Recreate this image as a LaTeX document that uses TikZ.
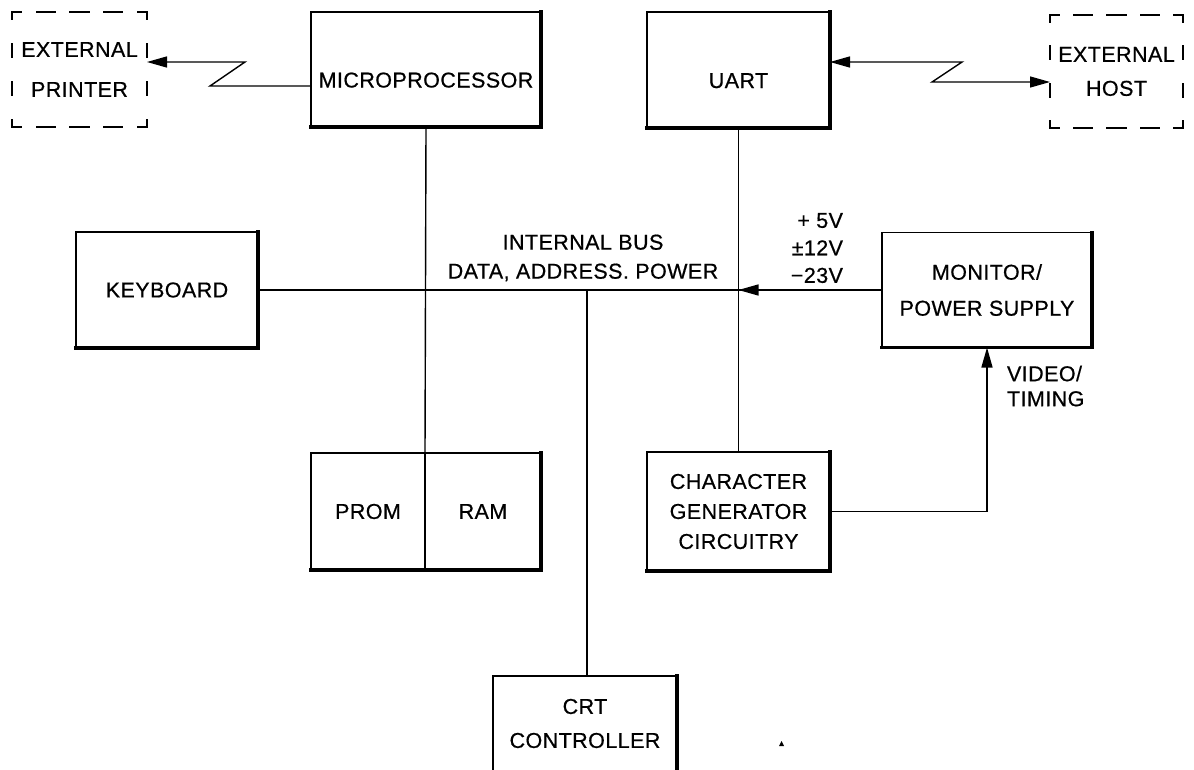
\documentclass[tikz,border=0pt]{standalone}
\usepackage{fontspec}
\setmainfont{Liberation Sans}[LetterSpace=2,FakeBold=0.6]
\usetikzlibrary{arrows.meta}
\begin{document}
\begin{tikzpicture}[x=1pt,y=-1pt,
  every node/.style={font=\fontsize{21.5}{30}\selectfont, inner sep=0pt, outer sep=0pt},
  blk/.style={draw, line width=1.6pt, align=center},
  dbox/.style={align=center},
  conn/.style={line width=1.4pt},
  heavy/.style={line width=3.2pt, line cap=rect, line join=miter},
  tip/.tip={Triangle[length=20pt,width=11pt]},
  pdh/.style={line width=2.4pt, line cap=rect, dash pattern=on 18pt off 15.75pt, dash phase=9pt},
  pdv/.style={line width=2.4pt, line cap=rect, dash pattern=on 13pt off 25.33pt, dash phase=6.5pt},
  hdh/.style={line width=2.4pt, line cap=rect, dash pattern=on 18pt off 15.25pt, dash phase=9pt},
  hdv/.style={line width=2.4pt, line cap=rect, dash pattern=on 13pt off 24.67pt, dash phase=6.5pt},
]
\fill[white] (0,0) rectangle (1194,769);
\useasboundingbox (0,0) rectangle (1194,769);

% boxes
\node[dbox, minimum width=135pt, minimum height=115pt] (printer) at (79.5,69.5) {EXTERNAL\\[10pt]PRINTER};
\node[blk, minimum width=230pt, minimum height=115pt, text height=36pt, text depth=0pt] (micro) at (426,69.5) {MICROPROCESSOR};
\node[blk, minimum width=183pt, minimum height=116pt, text height=36pt, text depth=0pt] (uart) at (738.5,70) {UART};
\node[dbox, minimum width=133pt, minimum height=113pt] (host) at (1116.5,71.5) {EXTERNAL\\[4pt]HOST};
\node[blk, minimum width=182pt, minimum height=116pt] (kbd) at (167,290) {KEYBOARD};
\node[blk, minimum width=210pt, minimum height=115pt] (mon) at (987,290) {MONITOR/\\[6pt]POWER SUPPLY};
\node[blk, minimum width=114pt, minimum height=117pt] (prom) at (368,511.5) {PROM};
\node[blk, minimum width=116pt, minimum height=117pt] (ram) at (483,511.5) {RAM};
\node[blk, minimum width=183pt, minimum height=119pt] (chg) at (738.5,511.5) {CHARACTER\\GENERATOR\\CIRCUITRY};
\node[blk, minimum width=184pt, minimum height=95pt] (crt) at (585,723.5) {CRT\\[4pt]CONTROLLER};

% heavy shadow edges
\draw[heavy] (micro.south west) -- (micro.south east) -- (micro.north east);
\draw[heavy] (uart.south west) -- (uart.south east) -- (uart.north east);
\draw[heavy] (kbd.south west) -- (kbd.south east) -- (kbd.north east);
\draw[heavy] (mon.south west) -- (mon.south east) -- (mon.north east);
\draw[heavy] (chg.south west) -- (chg.south east) -- (chg.north east);
\draw[heavy] (prom.south west) -- (ram.south east) -- (ram.north east);
\draw[heavy] (crt.south east) -- (crt.north east);

% dashed boxes
\draw[pdh] (printer.north west) -- (printer.north east);
\draw[pdh] (printer.south west) -- (printer.south east);
\draw[pdv] (printer.north west) -- (printer.south west);
\draw[pdv] (printer.north east) -- (printer.south east);
\draw[hdh] (host.north west) -- (host.north east);
\draw[hdh] (host.south west) -- (host.south east);
\draw[hdv] (host.north west) -- (host.south west);
\draw[hdv] (host.north east) -- (host.south east);

% labels
\node[align=center, font=\fontsize{21.5}{29}\selectfont] (buslbl) at (583,258) {INTERNAL BUS\\DATA, ADDRESS. POWER};
\node[align=right, anchor=east, font=\fontsize{21.5}{27.5}\selectfont] (volt) at (843,248) {+ 5V\\±12V\\−23V};
\node[align=left, anchor=west, font=\fontsize{21.5}{25}\selectfont] (vid) at (1007,386) {VIDEO/\\TIMING};

% coordinates
\coordinate (z1) at (245,62);
\coordinate (z2) at (210,86);
\coordinate (z3) at (962,62);
\coordinate (z4) at (932,82);
\coordinate (bj) at (uart.south |- kbd.east);
\coordinate (cj) at (587,290);

% connectors
\draw[conn, -tip] (micro.west |- z2) -- (z2) -- (z1) -- (printer.east |- z1);
\draw[conn, tip-tip] (uart.east |- z3) -- (z3) -- (z4) -- (host.west |- z4);
\draw[conn] (kbd.east) -- (mon.west);
\draw[conn, -tip] (mon.west) -- (bj);
\draw[conn] (micro.south) -- (prom.north east);
\draw[conn] (uart.south) -- (chg.north);
\draw[conn] (cj) -- (cj |- crt.north);
\draw[conn, -tip] (chg.east) -| (mon.south);

% small speck
\fill (779,746) -- (784,746) -- (781.5,741) -- cycle;
\end{tikzpicture}
\end{document}
